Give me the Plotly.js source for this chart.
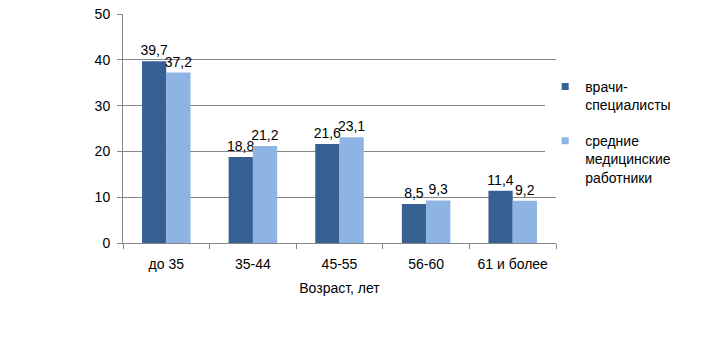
<!DOCTYPE html>
<html><head><meta charset="utf-8">
<script src="https://cdn.plot.ly/plotly-3.0.1.min.js"></script>
<style>body{margin:0;background:#fff}#c{width:715px;height:337px}</style>
</head><body><div id="c"></div>
<script>
const categories = ['до 35', '35-44', '45-55', '56-60', '61 и более'];
const doctors = [39.7, 18.8, 21.6, 8.5, 11.4];
const nurses = [37.2, 21.2, 23.1, 9.3, 9.2];
const seriesNames = ['врачи-<br>специалисты', 'средние<br>медицинские<br>работники'];
const seriesColors = ['#376092', '#8EB4E3'];
const yTicks = [0, 10, 20, 30, 40, 50];
const fmt = v => v.toFixed(1).replace('.', ',');
const font = {family: 'Liberation Sans, Arial, sans-serif', size: 14, color: '#000'};
const traces = [
  {type: 'bar', x: categories, y: doctors, name: seriesNames[0], showlegend: false,
   marker: {color: seriesColors[0]}, text: doctors.map(fmt), textposition: 'outside',
   constraintext: 'none', textfont: font, cliponaxis: false},
  {type: 'bar', x: categories, y: nurses, name: seriesNames[1], showlegend: false,
   marker: {color: seriesColors[1]}, text: nurses.map(fmt), textposition: 'outside',
   constraintext: 'none', textfont: font, cliponaxis: false},
  {type: 'scatter', mode: 'markers', x: [null], y: [null], name: seriesNames[0], legendgroup: 'a',
   marker: {symbol: 'square', size: 7, color: seriesColors[0]}},
  {type: 'scatter', mode: 'markers', x: [null], y: [null], name: seriesNames[1], legendgroup: 'b',
   marker: {symbol: 'square', size: 7, color: seriesColors[1]}}
];
const layout = {
  width: 715, height: 337,
  margin: {l: 123, r: 159, t: 14, b: 94},
  paper_bgcolor: '#fff', plot_bgcolor: '#fff',
  font: font,
  barmode: 'group', bargap: 0.44, bargroupgap: 0,
  showlegend: true,
  legend: {x: 0.975, y: 0.752, yanchor: 'top', xanchor: 'left', font: font,
           tracegroupgap: 15, traceorder: 'grouped', itemwidth: 30, valign: 'top'},
  xaxis: {type: 'category', showline: true, linecolor: '#868686', linewidth: 1,
          ticks: 'outside', tickson: 'boundaries', ticklen: 5, tickcolor: '#868686',
          tickfont: font, showgrid: false, ticklabelstandoff: 8,
          title: {text: 'Возраст, лет', font: font, standoff: 12}},
  yaxis: {range: [0, 50], tickvals: yTicks, showline: true, linecolor: '#868686',
          ticks: 'outside', ticklen: 5, tickcolor: '#868686', tickfont: font,
          showgrid: true, gridcolor: '#868686', gridwidth: 1, zeroline: false,
          ticklabelstandoff: 4}
};
Plotly.newPlot('c', traces, layout, {displayModeBar: false, staticPlot: true});
</script></body></html>
